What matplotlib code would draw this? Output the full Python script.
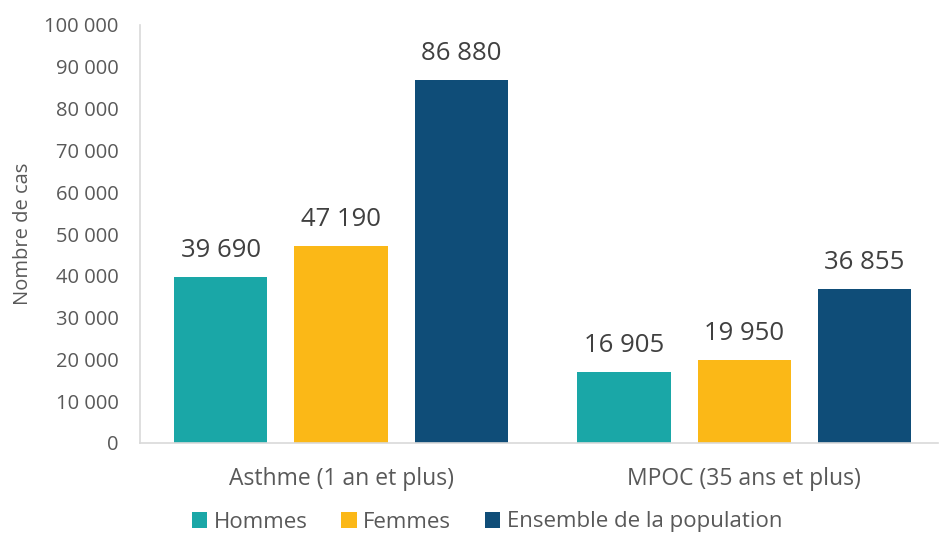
import matplotlib.pyplot as plt
import numpy as np

plt.rcParams['font.family'] = ['Open Sans', 'DejaVu Sans']

categories = ['Asthme (1 an et plus)', 'MPOC (35 ans et plus)']
seriesNames = ['Hommes', 'Femmes', 'Ensemble de la population']
hommes = [39690, 16905]
femmes = [47190, 19950]
ensemble = [86880, 36855]
yTicks = [0, 10000, 20000, 30000, 40000, 50000, 60000, 70000, 80000, 90000, 100000]

colors = ['#1AA7A7', '#FBB817', '#0F4D78']
textGrey = '#595959'


def fmt(v):
    return f'{v:,}'.replace(',', ' ')


fig = plt.figure(figsize=(9.39, 5.35), dpi=100)
ax = fig.add_axes([139.5 / 939, 1 - 443 / 535, 798.5 / 939, (443 - 25) / 535])

x = np.arange(len(categories))
width = 0.231
step = 0.298
for i, (name, values) in enumerate(zip(seriesNames, [hommes, femmes, ensemble])):
    bars = ax.bar(x + (i - 1) * step, values, width, color=colors[i], label=name)
    for b, v in zip(bars, values):
        ax.annotate(fmt(v), (b.get_x() + b.get_width() / 2, v), xytext=(0, 10),
                    textcoords='offset points', ha='center', va='bottom',
                    fontsize=18.5, color='#404040')

ax.set_xlim(-0.5, 1.481)
ax.set_ylim(0, 100000)
ax.set_yticks(yTicks)
ax.set_yticklabels([fmt(t) for t in yTicks], fontsize=14.5, color=textGrey)
ax.set_xticks(x)
ax.set_xticklabels(categories, fontsize=16.5, color=textGrey)
ax.tick_params(axis='y', length=0, pad=15)
ax.tick_params(axis='x', length=0, pad=17)
ax.set_ylabel('Nombre de cas', fontsize=14.5, color=textGrey, labelpad=8)

for s in ['top', 'right']:
    ax.spines[s].set_visible(False)
for s in ['left', 'bottom']:
    ax.spines[s].set_color('#D9D9D9')
    ax.spines[s].set_linewidth(1.2)

fig.legend(loc='center', bbox_to_anchor=(487 / 939, 1 - 522 / 535), ncol=3, frameon=False,
           fontsize=16, handlelength=0.7, handleheight=0.7, handletextpad=0.3,
           columnspacing=1.5, labelcolor=textGrey)

fig.savefig('out.png', dpi=100)
